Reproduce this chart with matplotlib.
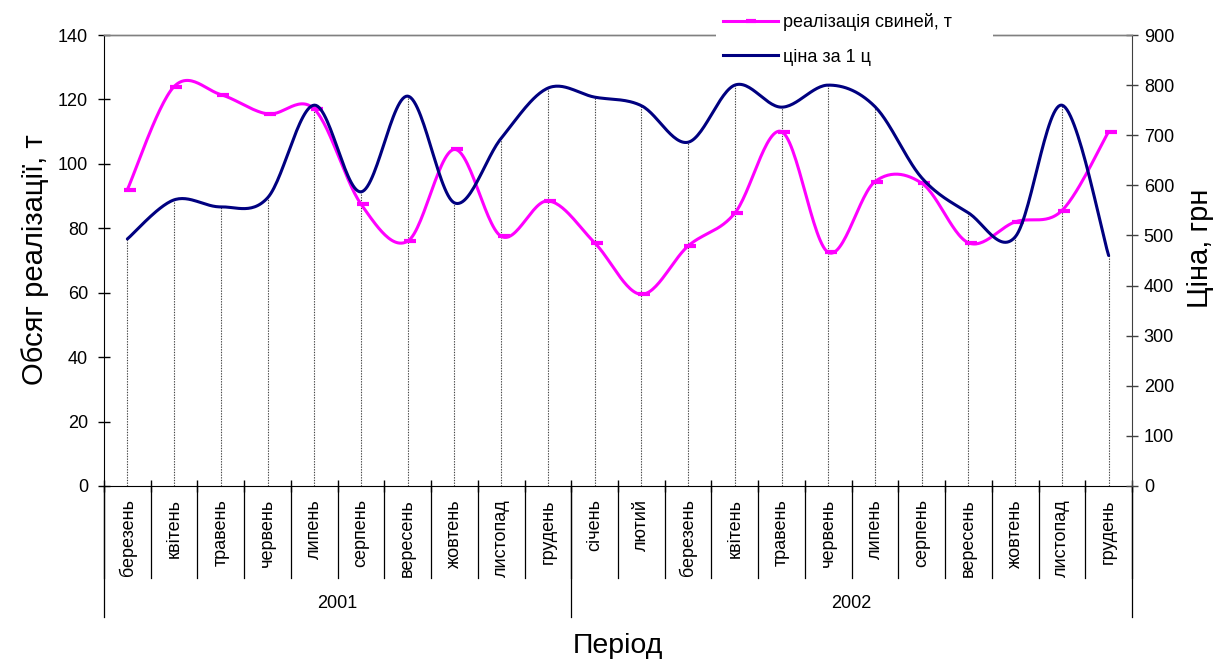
import numpy as np
import matplotlib
matplotlib.use("Agg")
import matplotlib.pyplot as plt
from matplotlib.lines import Line2D
from matplotlib.patches import Rectangle
import matplotlib.transforms as mtransforms

plt.rcParams['font.family'] = ['Liberation Sans', 'DejaVu Sans']

# ---------------- data ----------------
years = ['2001', '2002']
months_2001 = ['березень', 'квітень', 'травень', 'червень', 'липень', 'серпень',
               'вересень', 'жовтень', 'листопад', 'грудень']
months_2002 = ['січень', 'лютий', 'березень', 'квітень', 'травень', 'червень',
               'липень', 'серпень', 'вересень', 'жовтень', 'листопад', 'грудень']
sales = [92, 124, 121.5, 115.5, 117, 87.5, 76, 104.5, 77.5, 88.5,
         75.5, 59.5, 74.5, 84.7, 110, 72.5, 94.5, 94, 75.5, 82, 85.5, 110]
price = [493, 571, 557, 575, 760, 587, 778, 565, 694, 794,
         776, 759, 686, 800, 756, 800, 757, 615, 545, 497, 760, 460]
series_names = ['реалізація свиней, т', 'ціна за 1 ц']
left_ticks = [0, 20, 40, 60, 80, 100, 120, 140]
right_ticks = [0, 100, 200, 300, 400, 500, 600, 700, 800, 900]

months = months_2001 + months_2002
n = len(months)
x = np.arange(n, dtype=float)


def smooth(xs, ys, steps=30):
    """Catmull-Rom style Bezier smoothing (like Excel smoothed lines)."""
    xs = np.asarray(xs, float)
    ys = np.asarray(ys, float)
    P = np.column_stack([xs, ys])
    Pext = np.vstack([P[0], P, P[-1]])
    out = []
    t = np.linspace(0, 1, steps)[:, None]
    for i in range(len(P) - 1):
        p0, p1, p2, p3 = Pext[i], Pext[i + 1], Pext[i + 2], Pext[i + 3]
        b0 = p1
        b1 = p1 + (p2 - p0) / 6.0
        b2 = p2 - (p3 - p1) / 6.0
        b3 = p2
        seg = ((1 - t) ** 3) * b0 + 3 * ((1 - t) ** 2) * t * b1 + 3 * (1 - t) * t ** 2 * b2 + t ** 3 * b3
        if i > 0:
            seg = seg[1:]
        out.append(seg)
    c = np.vstack(out)
    return c[:, 0], c[:, 1]


W, H = 1224, 660
fig = plt.figure(figsize=(W / 100, H / 100), dpi=100)
L, R, B, T = 104 / W, 1132 / W, 1 - 486 / H, 1 - 35 / H
ax = fig.add_axes([L, B, R - L, T - B])
ax2 = ax.twinx()

ax.set_xlim(-0.5, n - 0.5)
ax.set_ylim(0, 140)
ax2.set_ylim(0, 900)

MAG = '#FF00FF'
NAVY = '#000080'

# drop lines (from price series to the axis)
ax.vlines(x, 0, price, transform=ax2.transData, colors='#444444',
          linestyles=(0, (1.2, 1.2)), linewidth=0.8, zorder=1)

sx, sy = smooth(x, sales)
ax.plot(sx, sy, color=MAG, lw=2.2, zorder=3, solid_capstyle='round')
ax.plot(x + 0.05, sales, linestyle='none', marker='_', markersize=9, mew=3,
        color=MAG, zorder=4)

px, py = smooth(x, price)
ax2.plot(px, py, color=NAVY, lw=2.2, zorder=3, solid_capstyle='round')

# spines
for a in (ax, ax2):
    a.spines['top'].set_color('#808080')
    a.spines['top'].set_linewidth(1.0)
ax.spines['left'].set_color('black')
ax.spines['bottom'].set_color('black')
ax2.spines['right'].set_color('#404040')
ax.spines['right'].set_visible(False)
ax2.spines['left'].set_visible(False)
ax2.spines['bottom'].set_visible(False)

TICKFS = 13
ax.set_yticks(left_ticks)
ax.set_yticklabels([str(v) for v in left_ticks], fontsize=TICKFS)
ax.tick_params(axis='y', direction='inout', length=9, width=1, pad=7)
ax2.set_yticks(right_ticks)
ax2.set_yticklabels([str(v) for v in right_ticks], fontsize=TICKFS)
ax2.tick_params(axis='y', direction='inout', length=9, width=1, pad=4,
                color='#404040', labelcolor='black')

# x axis: category boundaries as ticks
ax.set_xticks(np.arange(n + 1) - 0.5)
ax.set_xticklabels([])
ax.tick_params(axis='x', direction='inout', length=9, width=1)

trans = mtransforms.blended_transform_factory(ax.transData, ax.transAxes)
h_ax = 486 - 35
sep_bottom = -(578 - 486) / h_ax
year_bottom = -(617 - 486) / h_ax
for b in np.arange(n + 1) - 0.5:
    ax.plot([b, b], [0, sep_bottom], transform=trans, color='black', lw=0.9,
            clip_on=False)
for i, m in enumerate(months):
    ax.text(i, -(499 - 486) / h_ax, m, transform=trans, rotation=90,
            ha='center', va='top', fontsize=13)
year_bounds = [-0.5, len(months_2001) - 0.5, n - 0.5]
for b in year_bounds:
    ax.plot([b, b], [0, year_bottom], transform=trans, color='black', lw=0.9,
            clip_on=False)
for k, yr in enumerate(years):
    cx = (year_bounds[k] + year_bounds[k + 1]) / 2
    ax.text(cx, -(603 - 486) / h_ax, yr, transform=trans, ha='center',
            va='center', fontsize=13)

# axis titles
fig.text((104 + 1132) / 2 / W, 1 - 646 / H, 'Період', ha='center',
         va='center', fontsize=20.5)
fig.text(35 / W, 1 - 260 / H, 'Обсяг реалізації, т', rotation=90,
         ha='center', va='center', fontsize=21)
fig.text(1200 / W, 1 - 248 / H, 'Ціна, грн', rotation=90,
         ha='center', va='center', fontsize=21)

# white block behind the legend (hides the top border there)
fig.patches.append(Rectangle((716 / W, 1 - 72 / H), (993 - 716) / W, 72 / H,
                             transform=fig.transFigure, facecolor='white',
                             edgecolor='none', zorder=4))

# legend
handles = [Line2D([], [], color=MAG, lw=2.2, marker='_', markersize=7, mew=3),
           Line2D([], [], color=NAVY, lw=2.2)]
leg = fig.legend(handles, series_names, loc='upper left',
                 bbox_to_anchor=(718 / W, 1 - 8 / H), frameon=False,
                 fontsize=13, handlelength=3.0, handletextpad=0.3,
                 labelspacing=0.95, numpoints=1, borderaxespad=0,
                 borderpad=0.3)
leg.set_zorder(10)

fig.savefig('out.png', dpi=100, facecolor='white')
